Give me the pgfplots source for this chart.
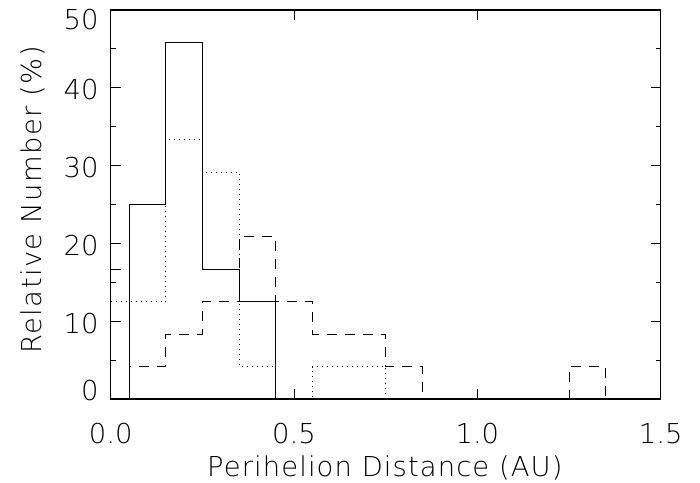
\documentclass[border=0pt]{standalone}
\usepackage{fontspec}
\setmainfont{DejaVu Sans ExtraLight}
\usepackage{pgfplots}
\pgfplotsset{compat=1.18}
\begin{document}
\begin{tikzpicture}
\useasboundingbox (-55.35pt,-41.5pt) rectangle (294.65pt,199.5pt);
\begin{axis}[
  at={(0,0)}, anchor=south west,
  scale only axis, width=275pt, height=194.5pt,
  xmin=0, xmax=1.5, ymin=0, ymax=50,
  xtick={0,0.5,1,1.5}, xticklabels={0.0,0.5,1.0,1.5},
  ytick={0,10,20,30,40,50},
  yticklabels={\raisebox{5pt}[\height][\depth]{0},10,20,30,40,\raisebox{-4pt}[\height][\depth]{50}},
  minor y tick num=1,
  tick align=inside, tick pos=both,
  major tick length=5pt, minor tick length=2.5pt,
  axis line style={line width=0.6pt, black},
  every tick/.style={black, line width=0.5pt},
  font=\fontsize{13.7}{16}\selectfont,
  xticklabel style={inner sep=0pt, anchor=north, yshift=-12pt},
  yticklabel style={inner sep=0pt, anchor=east, xshift=-5.85pt, yshift=-1pt},
  xlabel={\addfontfeatures{LetterSpace=4}Perihelion Distance (AU)},
  ylabel={\addfontfeatures{LetterSpace=5}Relative Number (\%)},
  xlabel style={at={(axis description cs:0.4985,-0.1997)}, anchor=base, inner sep=0pt},
  ylabel style={at={(axis description cs:-0.1255,0.512)}, anchor=base, inner sep=0pt},
]
\addplot[const plot, black, line width=0.5pt]
  coordinates {(0,0) (0.05,25) (0.15,45.83) (0.25,16.67) (0.35,12.5) (0.45,0) (1.4,0)};
\addplot[const plot, black, line width=0.5pt, dash pattern=on 0.5pt off 2pt]
  coordinates {(0,12.5) (0.15,33.33) (0.25,29.17) (0.35,4.17) (0.45,0) (0.55,4.17) (0.75,0) (1.4,0)};
\addplot[const plot, black, line width=0.5pt, dash pattern=on 5pt off 4pt]
  coordinates {(0,16.67) (0.05,4.17) (0.15,8.33) (0.25,12.5) (0.35,20.83) (0.45,12.5) (0.55,8.33) (0.75,4.17) (0.85,0) (1.25,4.17) (1.35,0) (1.4,0)};
\end{axis}
\end{tikzpicture}
\end{document}
